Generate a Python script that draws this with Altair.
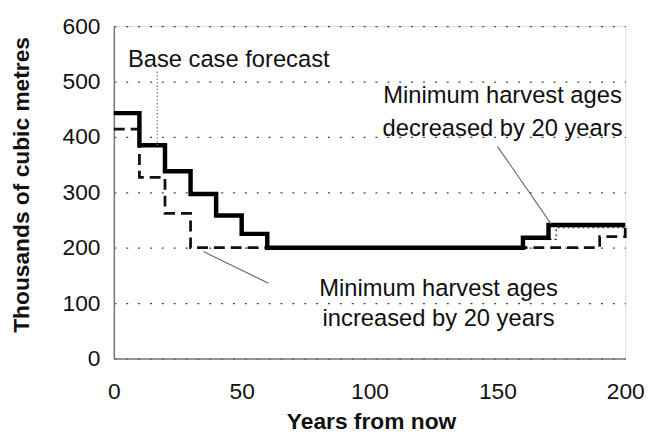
import altair as alt
import pandas as pd

# Series (years from now, thousands of cubic metres)
dec_years = [0, 10, 20, 30, 40, 50, 60, 160, 170, 200]
dec_vals = [443, 385, 338, 297, 258, 225, 200, 218, 241, 241]

inc_years = [0, 10, 20, 30, 180, 190, 200]
inc_vals = [414, 327, 262, 200, 200, 220, 241]

base_years = [0, 10, 20, 30, 40, 50, 60, 160, 173, 200]
base_vals = [443, 385, 338, 297, 258, 225, 200, 215, 236, 236]

y_ticks = [0, 100, 200, 300, 400, 500, 600]
x_ticks = [0, 50, 100, 150, 200]

# Annotation texts
ann_text = ["Base case forecast", "Minimum harvest ages", "decreased by 20 years",
            "Minimum harvest ages", "increased by 20 years"]
ann_x = [5.5, 152, 152, 127, 127]
ann_y = [539, 473, 414, 125, 71]
ann_align = ["left", "center", "center", "center", "center"]

# Leader lines
lead_x = [17, 150, 35]
lead_y = [518, 383, 193]
lead_x2 = [17, 171, 60.5]
lead_y2 = [385, 243, 136]
lead_dash = ["dot", "solid", "solid"]

FONT = "Liberation Sans"

xs = alt.Scale(domain=[0, 200], nice=False)
ys = alt.Scale(domain=[0, 600], nice=False)

def series(xv, yv):
    return pd.DataFrame({"x": xv, "y": yv})

xenc = alt.X("x:Q", scale=xs, axis=alt.Axis(
    values=x_ticks, title="Years from now", grid=False, ticks=False,
    labelFontSize=23, labelFont=FONT, labelColor="#111", labelPadding=22,
    titleFont=FONT, titleFontSize=23, titleFontWeight="bold", titleColor="#111",
    titleX=260, titleY=64, titleBaseline="middle",
    domainColor="#777", domainWidth=1.5, labelFlush=False))
yenc = alt.Y("y:Q", scale=ys, axis=alt.Axis(
    values=y_ticks, title="Thousands of cubic metres", ticks=False,
    grid=True, gridDash=[2, 10], gridColor="#444", gridWidth=1.3,
    labelFontSize=23, labelFont=FONT, labelColor="#111", labelPadding=14,
    titleFont=FONT, titleFontSize=23, titleFontWeight="bold", titleColor="#111",
    titleX=-93, titleY=160, titleBaseline="middle", titleAngle=-90,
    domainColor="#777", domainWidth=1.5))

base = alt.Chart(series(base_years, base_vals)).mark_line(
    interpolate="step-after", color="#222", strokeWidth=1.2, strokeDash=[2, 3]
).encode(x=xenc, y=yenc)

inc = alt.Chart(series(inc_years, inc_vals)).mark_line(
    interpolate="step-after", color="#111", strokeWidth=2.8, strokeDash=[11, 6]
).encode(x="x:Q", y="y:Q")

dec = alt.Chart(series(dec_years, dec_vals)).mark_line(
    interpolate="step-after", color="#000", strokeWidth=4.5, strokeJoin="miter"
).encode(x="x:Q", y="y:Q")

ann = alt.Chart(pd.DataFrame({"t": ann_text, "x": ann_x, "y": ann_y, "a": ann_align}))
ann_left = ann.transform_filter(alt.datum.a == "left").mark_text(
    align="left", baseline="middle", font=FONT, fontSize=24, color="#111"
).encode(x="x:Q", y="y:Q", text="t:N")
ann_center = ann.transform_filter(alt.datum.a == "center").mark_text(
    align="center", baseline="middle", font=FONT, fontSize=24, color="#111"
).encode(x="x:Q", y="y:Q", text="t:N")

leads = pd.DataFrame({"x": lead_x, "y": lead_y, "x2": lead_x2, "y2": lead_y2, "d": lead_dash})
lead_dot = alt.Chart(leads).transform_filter(alt.datum.d == "dot").mark_rule(
    color="#888", strokeWidth=1.3, strokeDash=[1.5, 2]
).encode(x="x:Q", y="y:Q", x2="x2:Q", y2="y2:Q")
lead_solid = alt.Chart(leads).transform_filter(alt.datum.d == "solid").mark_rule(
    color="#666", strokeWidth=1.1
).encode(x="x:Q", y="y:Q", x2="x2:Q", y2="y2:Q")

chart = alt.layer(base, inc, dec, lead_dot, lead_solid, ann_left, ann_center).properties(
    width=517, height=336, autosize="none",
    padding={"left": 107, "top": 16, "right": 22, "bottom": 74},
).configure_view(stroke=None).configure(background="white")

chart.save("out.html", embed_options={"renderer": "svg", "actions": False})
